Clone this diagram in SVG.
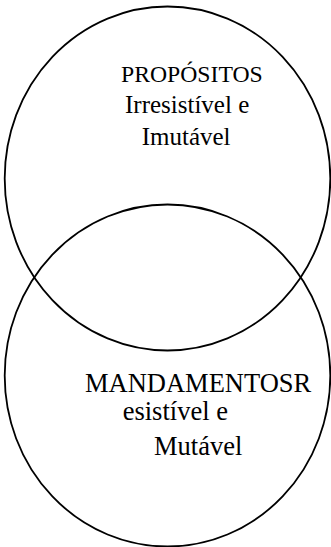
<svg xmlns="http://www.w3.org/2000/svg" width="331" height="547" viewBox="0 0 331 547">
<style>
.shape{fill:none;stroke:#000;stroke-width:1.8}
.t1{font-family:"Liberation Serif","Times New Roman",serif;font-size:25px;fill:#000}
.t2{font-family:"Liberation Serif","Times New Roman",serif;font-size:26.5px;fill:#000}
</style>
<rect width="331" height="547" fill="#fff"/>
<g id="connectors"></g>
<g id="propositos">
<ellipse class="shape" cx="167.5" cy="178.5" rx="162.8" ry="172"/>
<text class="t1" x="121" y="81.7" style="font-size:23.7px">PROPÓSITOS</text>
<text class="t1" x="125" y="113.3">Irresistível e</text>
<text class="t1" x="141.7" y="145">Imutável</text>
</g>
<g id="mandamentos">
<ellipse class="shape" cx="167.5" cy="375.5" rx="162.8" ry="171"/>
<text class="t2" x="85" y="391.7">MANDAMENTOSR</text>
<text class="t2" x="122.7" y="420">esistível e</text>
<text class="t2" x="154" y="455">Mutável</text>
</g>
</svg>
